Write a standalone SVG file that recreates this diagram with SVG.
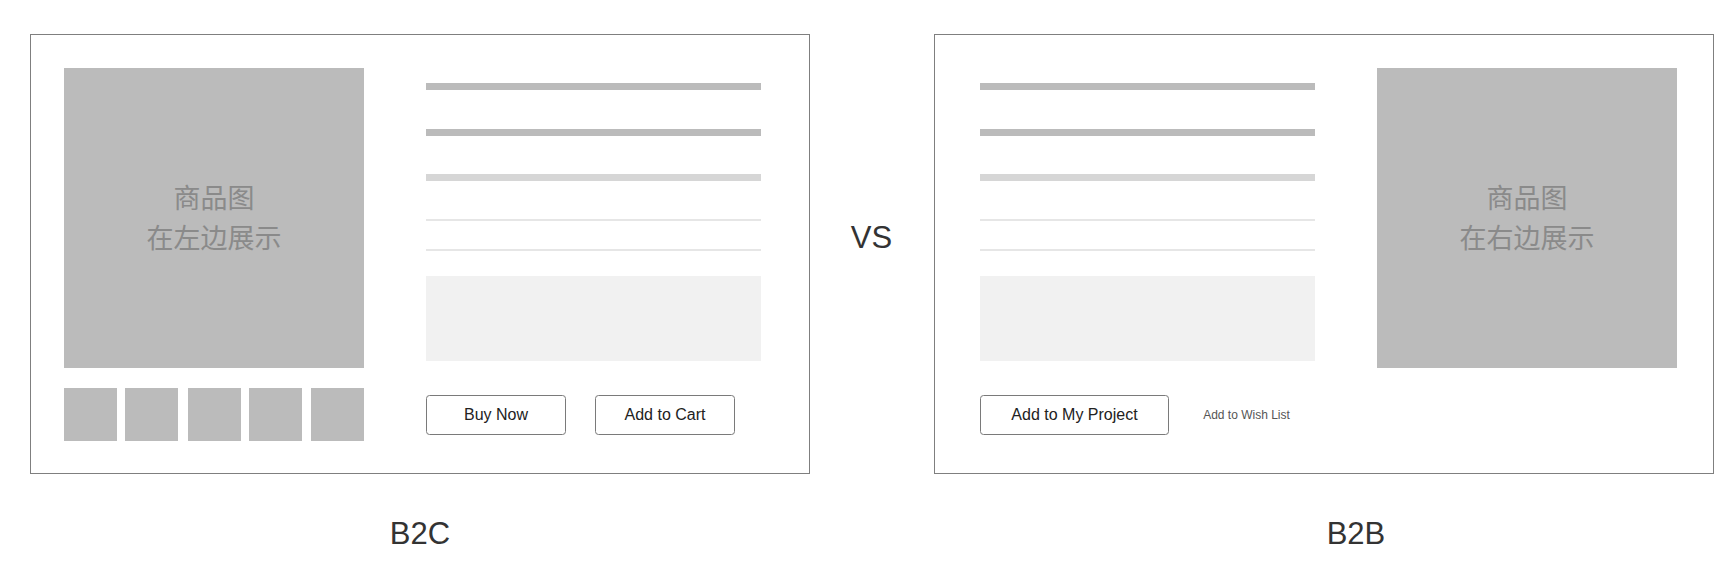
<svg xmlns="http://www.w3.org/2000/svg" width="1734" height="582" viewBox="0 0 1734 582">
<style>
.frame{fill:#fff;stroke:#7f7f7f;stroke-width:1}
.img{fill:#bbbbbb}
.bar{fill:#bbbbbb}
.bar2{fill:#d6d6d6}
.thin{fill:#e6e6e6}
.box{fill:#f1f1f1}
.btn{fill:#fff;stroke:#7a7a7a;stroke-width:1}
.btntxt{font-family:"Liberation Sans",Arial,sans-serif;font-size:16px;fill:#222;text-anchor:middle}
.small{font-family:"Liberation Sans",Arial,sans-serif;font-size:12px;fill:#555;text-anchor:middle}
.cjk{font-family:"Liberation Sans","Noto Sans CJK SC",sans-serif;font-size:27px;fill:#8a8a8a;text-anchor:middle}
.big{font-family:"Liberation Sans",Arial,sans-serif;font-size:31px;fill:#333;text-anchor:middle}
</style>
<rect width="1734" height="582" fill="#fff"/>
<g id="b2c">
  <rect class="frame" x="30.5" y="34.5" width="779" height="439"/>
  <g id="b2c-image">
    <rect class="img" x="64" y="68" width="300" height="300"/>
    <text class="cjk" x="214" y="208">商品图</text>
    <text class="cjk" x="214" y="248">在左边展示</text>
  </g>
  <g id="b2c-thumbs">
    <rect class="img" x="64" y="388" width="53" height="53"/>
    <rect class="img" x="125" y="388" width="53" height="53"/>
    <rect class="img" x="188" y="388" width="53" height="53"/>
    <rect class="img" x="249" y="388" width="53" height="53"/>
    <rect class="img" x="311" y="388" width="53" height="53"/>
  </g>
  <g id="b2c-info">
    <rect class="bar" x="426" y="83" width="335" height="7"/>
    <rect class="bar" x="426" y="129" width="335" height="7"/>
    <rect class="bar2" x="426" y="174" width="335" height="7"/>
    <rect class="thin" x="426" y="219" width="335" height="2"/>
    <rect class="thin" x="426" y="249" width="335" height="2"/>
    <rect class="box" x="426" y="276" width="335" height="85"/>
  </g>
  <g id="b2c-buy">
    <rect class="btn" x="426.5" y="395.5" width="139" height="39" rx="3"/>
    <text class="btntxt" x="496" y="420">Buy Now</text>
  </g>
  <g id="b2c-cart">
    <rect class="btn" x="595.5" y="395.5" width="139" height="39" rx="3"/>
    <text class="btntxt" x="665" y="420">Add to Cart</text>
  </g>
  <text class="big" x="420" y="544">B2C</text>
</g>
<g id="vs">
  <text class="big" x="871.5" y="248">VS</text>
</g>
<g id="b2b">
  <rect class="frame" x="934.5" y="34.5" width="779" height="439"/>
  <g id="b2b-info">
    <rect class="bar" x="980" y="83" width="335" height="7"/>
    <rect class="bar" x="980" y="129" width="335" height="7"/>
    <rect class="bar2" x="980" y="174" width="335" height="7"/>
    <rect class="thin" x="980" y="219" width="335" height="2"/>
    <rect class="thin" x="980" y="249" width="335" height="2"/>
    <rect class="box" x="980" y="276" width="335" height="85"/>
  </g>
  <g id="b2b-project">
    <rect class="btn" x="980.5" y="395.5" width="188" height="39" rx="3"/>
    <text class="btntxt" x="1074.5" y="420">Add to My Project</text>
  </g>
  <g id="b2b-wish">
    <text class="small" x="1246.5" y="419">Add to Wish List</text>
  </g>
  <g id="b2b-image">
    <rect class="img" x="1377" y="68" width="300" height="300"/>
    <text class="cjk" x="1527" y="208">商品图</text>
    <text class="cjk" x="1527" y="248">在右边展示</text>
  </g>
  <text class="big" x="1356" y="544">B2B</text>
</g>
<g id="connectors"></g>
</svg>
